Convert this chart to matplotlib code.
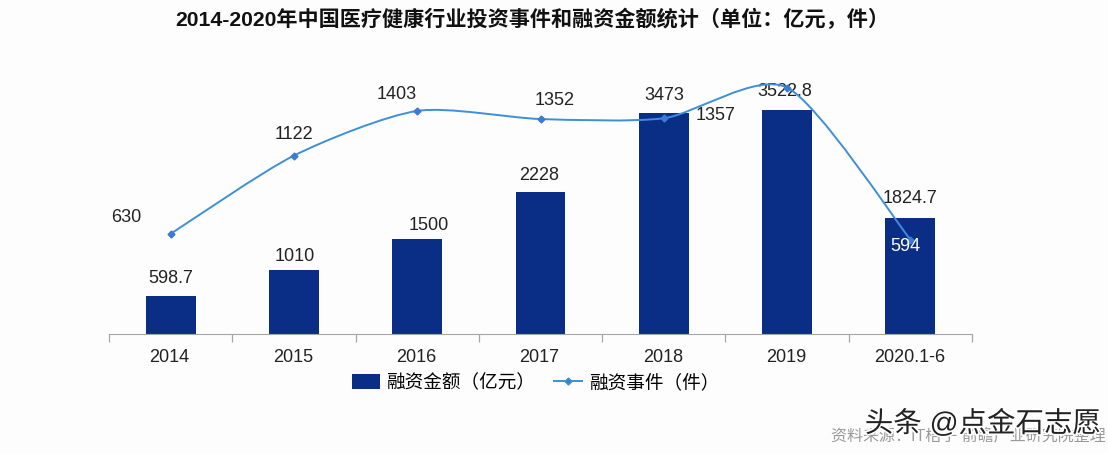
import numpy as np
import matplotlib.pyplot as plt
import matplotlib.patheffects as pe
from matplotlib.path import Path
from matplotlib.patches import PathPatch

plt.rcParams['font.family'] = ['Liberation Sans', 'Noto Sans CJK SC']

# Datos
anios = ["2014", "2015", "2016", "2017", "2018", "2019", "2020.1-6"]
monto = [598.7, 1010, 1500, 2228, 3473, 3522.8, 1824.7]
eventos = [630, 1122, 1403, 1352, 1357, 1550, 594]
etiquetas_monto = ["598.7", "1010", "1500", "2228", "3473", "3522.8", "1824.7"]
etiquetas_eventos = ["630", "1122", "1403", "1352", "1357", "", "594"]

# Desplazamiento de cada etiqueta en pixeles
desp_monto = [(0, 17), (1, 13), (12, 13), (-1, 17), (0, 18), (-2, 18), (0, 19)]
desp_eventos = [(-44, 16), (0, 21), (-21, 16), (14, 19), (52, 3), (0, 0), (-5, -7)]

AZUL_BARRA = "#0a2d85"
AZUL_LINEA = "#3f8fd8"
FONDO = "#fdfdfe"

# Función para construir la curva suavizada que pasa por los puntos
def curva_suave(x, y):
    puntos = np.column_stack([x, y]).astype(float)
    extremos = np.vstack([puntos[0], puntos, puntos[-1]])
    vertices = [puntos[0]]
    codigos = [Path.MOVETO]
    for i in range(1, len(extremos) - 2):
        c1 = extremos[i] + (extremos[i + 1] - extremos[i - 1]) / 8
        c2 = extremos[i + 1] - (extremos[i + 2] - extremos[i]) / 8
        vertices += [c1, c2, extremos[i + 1]]
        codigos += [Path.CURVE4, Path.CURVE4, Path.CURVE4]
    return Path(vertices, codigos)

# Función para escribir las etiquetas de una serie
def etiquetar(x, y, textos, desplazamientos, colores):
    for xi, yi, texto, d, color in zip(x, y, textos, desplazamientos, colores):
        plt.annotate(texto, (xi, yi), xytext=d, textcoords="offset pixels", ha="center", va="center",
                     fontsize=13, color=color)

# Función principal que dibuja el gráfico
def graficar():
    x = np.arange(len(anios))

    fig = plt.figure(figsize=(11.08, 4.54), dpi=100, facecolor=FONDO)
    plt.axes([109 / 1108, 1 - 334 / 454, 863 / 1108, 254.4 / 454], facecolor="none")

    barras = plt.bar(x, monto, width=0.405, color=AZUL_BARRA, label="融资金额（亿元）")
    plt.xlim(-0.5, 6.5)
    plt.ylim(0, 4000)
    plt.yticks([])
    plt.xticks(np.arange(-0.5, 7), [""] * 8)
    plt.tick_params(axis="x", length=6, color="#a6a6a6", width=0.9)
    for lado in ["top", "left", "right"]:
        plt.gca().spines[lado].set_visible(False)
    plt.gca().spines["bottom"].set_color("#a6a6a6")
    for xi, anio in zip(x, anios):
        plt.annotate(anio, (xi, 0), xytext=(-1, -23), textcoords="offset pixels", ha="center", va="center",
                     fontsize=13, color="#222222")
    etiquetar(x, monto, etiquetas_monto, desp_monto, ["#222222"] * 7)

    # Eje secundario para los eventos
    plt.twinx()
    plt.ylim(0, 1600)
    plt.yticks([])
    for lado in ["top", "left", "right", "bottom"]:
        plt.gca().spines[lado].set_visible(False)
    plt.gca().add_patch(PathPatch(curva_suave(x, eventos), facecolor="none", edgecolor=AZUL_LINEA, linewidth=1.4))
    plt.plot(x, eventos, linestyle="none", marker="D", markersize=3.5, color="#3a7bd5")
    linea, = plt.plot([], [], color=AZUL_LINEA, marker="D", markersize=3.5, markerfacecolor="#3a7bd5",
                      linewidth=1.4, label="融资事件（件）")
    etiquetar(x, eventos, etiquetas_eventos, desp_eventos, ["#222222"] * 6 + ["white"])

    plt.legend([barras, linea], ["融资金额（亿元）", "融资事件（件）"], loc="center", ncol=2, frameon=False,
               bbox_to_anchor=(535.5 / 1108, 1 - 383 / 454), bbox_transform=fig.transFigure,
               handlelength=1.5, handleheight=0.8, columnspacing=1.0, handletextpad=0.35,
               prop={"size": 13.4})

    plt.figtext(532 / 1108, 1 - 19 / 454, "2014-2020年中国医疗健康行业投资事件和融资金额统计（单位：亿元，件）",
                ha="center", va="center", fontsize=15.2, fontweight="bold", color="#111111")
    plt.figtext(968 / 1108, 1 - 437 / 454, "资料来源：IT桔子 前瞻产业研究院整理", ha="center", va="center",
                fontsize=11.5, color="#9a9a9a")
    plt.figtext(983 / 1108, 1 - 424 / 454, "头条 @点金石志愿", ha="center", va="center", fontsize=20.5,
                color="#222222", path_effects=[pe.withStroke(linewidth=2.5, foreground="white")])

    plt.savefig("out.png", dpi=100, facecolor=fig.get_facecolor())

if __name__ == "__main__":
    graficar()
